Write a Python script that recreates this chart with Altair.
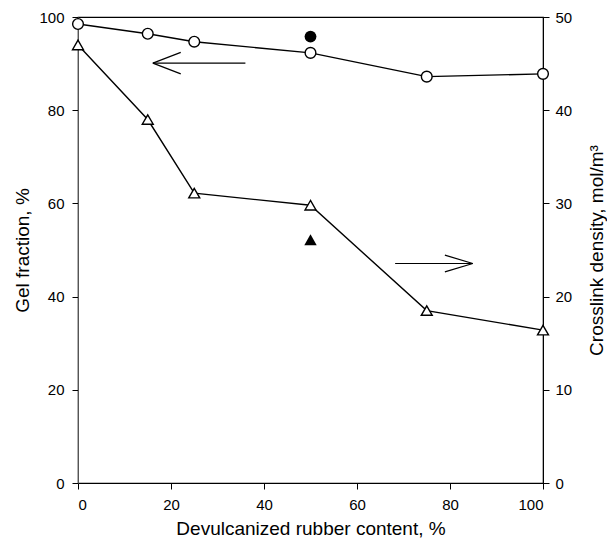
import altair as alt
import pandas as pd

# Data
content = [0, 15, 25, 50, 75, 100]
gel_fraction = [98.5, 96.4, 94.7, 92.3, 87.2, 87.8]
crosslink = [47.0, 39.0, 31.1, 29.8, 18.5, 16.4]
gel_extra_x = [50]
gel_extra = [95.8]
xl_extra_x = [50]
xl_extra = [26.1]

# Arrow annotations (data units, left scale)
arrow_shaft_x = [36.0, 16.1]
arrow_shaft_x_r = [68.2, 84.9]
arrow_y_left = 90.1
arrow_y_right = 47.1

FONT = "Liberation Sans"

df = pd.DataFrame({"x": content, "gel": gel_fraction, "xl": crosslink})
df_gx = pd.DataFrame({"x": gel_extra_x, "gel": gel_extra})
df_xx = pd.DataFrame({"x": xl_extra_x, "xl": xl_extra})

xscale = alt.Scale(domain=[0, 100], nice=False)
xaxis = alt.Axis(values=[0, 20, 40, 60, 80, 100], title="Devulcanized rubber content, %",
                 grid=False, tickSize=6, labelPadding=8, titlePadding=7,
                 labelFontSize=15, titleFontSize=19, labelFont=FONT, titleFont=FONT,
                 domainColor="black", tickColor="black", labelColor="black", titleColor="black",
                 titleFontWeight="normal")
X = alt.X("x:Q", scale=xscale, axis=xaxis)

lscale = alt.Scale(domain=[0, 100], nice=False)
laxis = alt.Axis(orient="left", values=[0, 20, 40, 60, 80, 100], title="Gel fraction, %",
                 grid=False, tickSize=6, labelPadding=8,
                 titleX=-56, titleY=233, titleAngle=270, titleAlign="center", titleBaseline="middle",
                 labelFontSize=15, titleFontSize=19, labelFont=FONT, titleFont=FONT,
                 domainColor="#555", tickColor="black", labelColor="black", titleColor="black",
                 titleFontWeight="normal")
rscale = alt.Scale(domain=[0, 50], nice=False)
raxis = alt.Axis(orient="right", values=[0, 10, 20, 30, 40, 50], title="Crosslink density, mol/m³",
                 grid=False, tickSize=6, labelPadding=6,
                 titleX=53, titleY=233, titleAngle=270, titleAlign="center", titleBaseline="middle",
                 labelFontSize=15, titleFontSize=19, labelFont=FONT, titleFont=FONT,
                 domainColor="black", tickColor="black", labelColor="black", titleColor="black",
                 titleFontWeight="normal")

gel_line = alt.Chart(df).mark_line(color="black", strokeWidth=1.4).encode(
    x=X, y=alt.Y("gel:Q", scale=lscale, axis=laxis))
gel_pts = alt.Chart(df).mark_point(shape="circle", size=115, filled=True, fill="white",
                                   stroke="black", strokeWidth=1.4, opacity=1).encode(
    x="x:Q", y="gel:Q")
gel_x = alt.Chart(df_gx).mark_point(shape="circle", size=140, filled=True, color="black",
                                    opacity=1).encode(x="x:Q", y="gel:Q")

# arrows
df_al = pd.DataFrame({"x": [arrow_shaft_x[1]], "x2": [arrow_shaft_x[0]], "y": [arrow_y_left]})
arr_l_shaft = alt.Chart(df_al).mark_rule(color="black", strokeWidth=1.2).encode(
    x="x:Q", x2="x2:Q", y="y:Q")
df_alb = pd.DataFrame({"x": [arrow_shaft_x[1]] * 2, "x2": [arrow_shaft_x[1] + 6.0] * 2,
                       "y": [arrow_y_left] * 2, "y2": [arrow_y_left + 2.3, arrow_y_left - 2.3]})
arr_l_barbs = alt.Chart(df_alb).mark_rule(color="black", strokeWidth=1.2).encode(
    x="x:Q", x2="x2:Q", y="y:Q", y2="y2:Q")
df_ar = pd.DataFrame({"x": [arrow_shaft_x_r[0]], "x2": [arrow_shaft_x_r[1]], "y": [arrow_y_right]})
arr_r_shaft = alt.Chart(df_ar).mark_rule(color="black", strokeWidth=1.2).encode(
    x="x:Q", x2="x2:Q", y="y:Q")
df_arb = pd.DataFrame({"x": [arrow_shaft_x_r[1]] * 2, "x2": [arrow_shaft_x_r[1] - 6.0] * 2,
                       "y": [arrow_y_right] * 2, "y2": [arrow_y_right + 1.8, arrow_y_right - 1.8]})
arr_r_barbs = alt.Chart(df_arb).mark_rule(color="black", strokeWidth=1.2).encode(
    x="x:Q", x2="x2:Q", y="y:Q", y2="y2:Q")

left = alt.layer(gel_line, gel_pts, gel_x, arr_l_shaft, arr_l_barbs, arr_r_shaft, arr_r_barbs)

xl_line = alt.Chart(df).mark_line(color="black", strokeWidth=1.4).encode(
    x=X, y=alt.Y("xl:Q", scale=rscale, axis=raxis))
xl_pts = alt.Chart(df).mark_point(shape="triangle-up", size=120, filled=True, fill="white",
                                  stroke="black", strokeWidth=1.4, opacity=1).encode(
    x="x:Q", y="xl:Q")
xl_x = alt.Chart(df_xx).mark_point(shape="triangle-up", size=155, filled=True, color="black",
                                   opacity=1).encode(x="x:Q", y="xl:Q")
right = alt.layer(xl_line, xl_pts, xl_x)

chart = alt.layer(left, right).resolve_scale(y="independent").properties(
    width=465, height=466,
    autosize=alt.AutoSizeParams(type="none"),
    padding={"left": 78, "top": 17, "right": 64, "bottom": 59},
    background="white",
).configure_view(stroke="black", strokeWidth=1.2)

chart.save("out.html", embed_options={"renderer": "svg", "actions": False})
